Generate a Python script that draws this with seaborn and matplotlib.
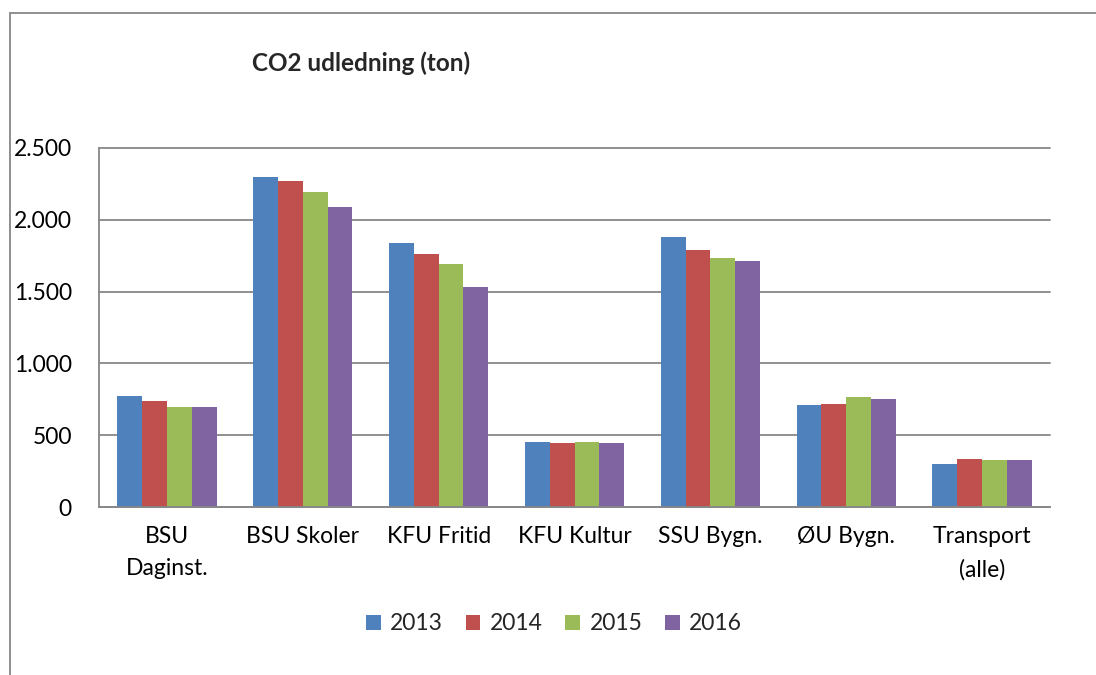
import matplotlib
matplotlib.use("Agg")
import matplotlib.pyplot as plt
import matplotlib.ticker as mticker
from matplotlib.patches import Rectangle
import seaborn as sns
import pandas as pd

categories = ["BSU\nDaginst.", "BSU Skoler", "KFU Fritid", "KFU Kultur",
              "SSU Bygn.", "ØU Bygn.", "Transport\n(alle)"]
years = ["2013", "2014", "2015", "2016"]
v2013 = [773, 2299, 1836, 451, 1877, 711, 299]
v2014 = [736, 2269, 1762, 444, 1790, 718, 333]
v2015 = [695, 2197, 1690, 456, 1734, 769, 329]
v2016 = [695, 2088, 1532, 447, 1713, 755, 324]
colors = ["#4F81BD", "#C0504D", "#9BBB59", "#8064A2"]

rows = []
for y, vals in zip(years, [v2013, v2014, v2015, v2016]):
    for c, v in zip(categories, vals):
        rows.append({"kategori": c, "år": y, "ton": v})
df = pd.DataFrame(rows)

sns.set_style("white")
plt.rcParams["font.family"] = ["Lato", "DejaVu Sans"]

W, H = 1096, 675
fig = plt.figure(figsize=(W / 100, H / 100), dpi=100)
ax = fig.add_axes([99 / W, 1 - 507 / H, (1050 - 99) / W, (507 - 148) / H])

sns.barplot(data=df, x="kategori", y="ton", hue="år", palette=colors,
            order=categories, hue_order=years, width=0.73, gap=0,
            saturation=1, edgecolor="none", ax=ax)

grid_c = "#878787"
FS = 16.5
ax.set_xlim(-0.5, len(categories) - 0.5)
ax.set_ylim(0, 2500)
ax.set_yticks(range(0, 2501, 500))
ax.yaxis.set_major_formatter(mticker.FuncFormatter(
    lambda v, p: f"{int(v):,}".replace(",", ".")))
ax.set_axisbelow(True)
ax.yaxis.grid(True, color=grid_c, linewidth=1.3)
ax.xaxis.grid(False)
for g in ax.get_ygridlines():
    g.set_clip_on(False)

for s in ["top", "right"]:
    ax.spines[s].set_visible(False)
for s in ["left", "bottom"]:
    ax.spines[s].set_color(grid_c)
    ax.spines[s].set_linewidth(1.3)

ax.set_xlabel("")
ax.set_ylabel("")
ax.tick_params(axis="y", length=6.5, width=1.2, color=grid_c, pad=13,
               labelsize=FS, labelcolor="black")
ax.set_xticks([i - 0.5 for i in range(len(categories) + 1)], minor=True)
ax.tick_params(axis="x", which="minor", length=5, width=1.2, color=grid_c,
               direction="out")
ax.tick_params(axis="x", which="major", length=0, pad=14, labelsize=FS,
               labelcolor="black")
for lbl in ax.get_xticklabels():
    lbl.set_linespacing(1.65)

handles, labels = ax.get_legend_handles_labels()
if ax.legend_ is not None:
    ax.legend_.remove()
fig.legend(handles, labels, loc="center", bbox_to_anchor=(554 / W, 1 - 624 / H),
           ncol=4, frameon=False, handlelength=0.65, handleheight=0.65,
           handletextpad=0.4, columnspacing=1.0, fontsize=FS)

fig.text(361 / W, 1 - 63 / H, "CO2 udledning (ton)", ha="center", va="center",
         fontsize=17.5, fontweight="bold")

fig.patches.append(Rectangle((10 / W, -0.05), 1.1, 1 - 13 / H + 0.05,
                             transform=fig.transFigure, fill=False,
                             edgecolor=grid_c, linewidth=1.3, clip_on=False))

fig.savefig("out.png", dpi=100)
